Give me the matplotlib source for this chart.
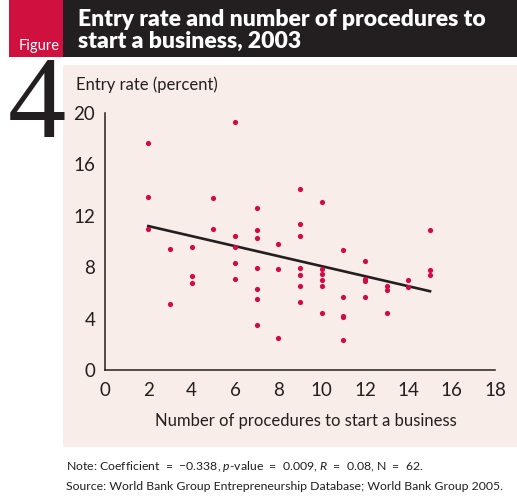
import matplotlib
matplotlib.use("Agg")
import matplotlib.pyplot as plt
from matplotlib.patches import Rectangle

# procedures (x) and entry rate in percent (y)
procedures = [2, 2, 2,
              3, 3,
              4, 4, 4,
              5, 5,
              6, 6, 6, 6, 6,
              7, 7, 7, 7, 7, 7, 7,
              8, 8, 8,
              9, 9, 9, 9, 9, 9, 9,
              10, 10, 10, 10, 10, 10,
              11, 11, 11, 11, 11,
              12, 12, 12, 12,
              13, 13, 13,
              14, 14,
              15, 15, 15]
entry_rate = [17.7, 13.5, 11.0,
              9.4, 5.1,
              9.6, 7.3, 6.8,
              13.4, 11.0,
              19.3, 10.4, 9.6, 8.3, 7.05,
              12.6, 10.9, 10.3, 7.9, 6.3, 5.55, 3.5,
              9.8, 7.85, 2.5,
              14.1, 11.4, 10.45, 7.95, 7.4, 6.5, 5.3,
              13.05, 7.85, 7.45, 7.0, 6.55, 4.4,
              9.35, 5.7, 4.2, 4.1, 2.35,
              8.5, 7.1, 6.9, 5.7,
              6.55, 6.2, 4.4,
              7.0, 6.45,
              10.9, 7.75, 7.4]

# fitted line as drawn in the chart
fit_intercept = 11.98
fit_slope = -0.39
fit_range = [2, 15]

xticks = [0, 2, 4, 6, 8, 10, 12, 14, 16, 18]
yticks = [0, 4, 8, 12, 16, 20]

W, H = 517, 499
PINK = "#f9ede9"
RED = "#d0103f"
DARK = "#231f20"
DOT = "#d40a48"
SANS = ["Lato", "DejaVu Sans"]

plt.rcParams["mathtext.fontset"] = "custom"
plt.rcParams["mathtext.rm"] = "Lato"
plt.rcParams["mathtext.it"] = "Lato:italic"

fig = plt.figure(figsize=(W / 100, H / 100), dpi=100)
fig.patch.set_facecolor("white")


def fx(px):
    return px / W


def fy(py):
    return 1 - py / H


def box(x0, y0, x1, y1, color):
    fig.add_artist(Rectangle((fx(x0), fy(y1)), fx(x1) - fx(x0), fy(y0) - fy(y1),
                             transform=fig.transFigure, facecolor=color,
                             edgecolor="none", zorder=0))


# header and panel
box(9, 0, 63, 57, RED)
box(63, 0, W, 57, DARK)
box(63, 65, W, 447, PINK)

fig.text(fx(78), fy(26), "Entry rate and number of procedures to", color="white",
         fontsize=16.5, fontweight="heavy", family=SANS, va="baseline")
fig.text(fx(78), fy(48), "start a business, 2003", color="white",
         fontsize=16.5, fontweight="heavy", family=SANS, va="baseline")
fig.text(fx(39), fy(50), "Figure", color="white", fontsize=10.5, family=SANS,
         ha="center", va="baseline")
fig.text(fx(37), fy(137), "4", color=DARK, fontsize=84,
         family=["Liberation Serif", "DejaVu Serif"], ha="center", va="baseline")

# plot
ax = fig.add_axes([fx(105), fy(370), fx(495) - fx(105), fy(113) - fy(370)])
ax.set_facecolor("none")
ax.scatter(procedures, entry_rate, s=14, color=DOT, zorder=3, linewidths=0)
fit_y = [fit_intercept + fit_slope * v for v in fit_range]
ax.plot(fit_range, fit_y, color=DARK, lw=1.9, zorder=2)

ax.set_xlim(0, 18)
ax.set_ylim(0, 20)
ax.set_xticks(xticks)
ax.set_yticks(yticks)
ax.tick_params(length=0, labelsize=13.5, colors=DARK)
ax.tick_params(axis="x", pad=9)
ax.tick_params(axis="y", pad=7)
for lab in ax.get_xticklabels() + ax.get_yticklabels():
    lab.set_family(SANS)
for s in ["top", "right"]:
    ax.spines[s].set_visible(False)
for s in ["left", "bottom"]:
    ax.spines[s].set_color(DARK)
    ax.spines[s].set_linewidth(1.1)

fig.text(fx(76), fy(90), "Entry rate (percent)", fontsize=12, family=SANS,
         color=DARK, va="baseline")
fig.text(fx(306), fy(426), "Number of procedures to start a business", fontsize=12,
         family=SANS, color=DARK, ha="center", va="baseline")

# notes
fig.text(fx(66), fy(470),
         r"Note: Coefficient  =  $-$0.338, $\it{p}$-value  =  0.009, $\it{R}$  =  0.08, N  =  62.",
         fontsize=8.8, family=SANS, color=DARK, va="baseline")
fig.text(fx(66), fy(490),
         "Source: World Bank Group Entrepreneurship Database; World Bank Group 2005.",
         fontsize=8.8, family=SANS, color=DARK, va="baseline")

fig.savefig("out.png", dpi=100)
